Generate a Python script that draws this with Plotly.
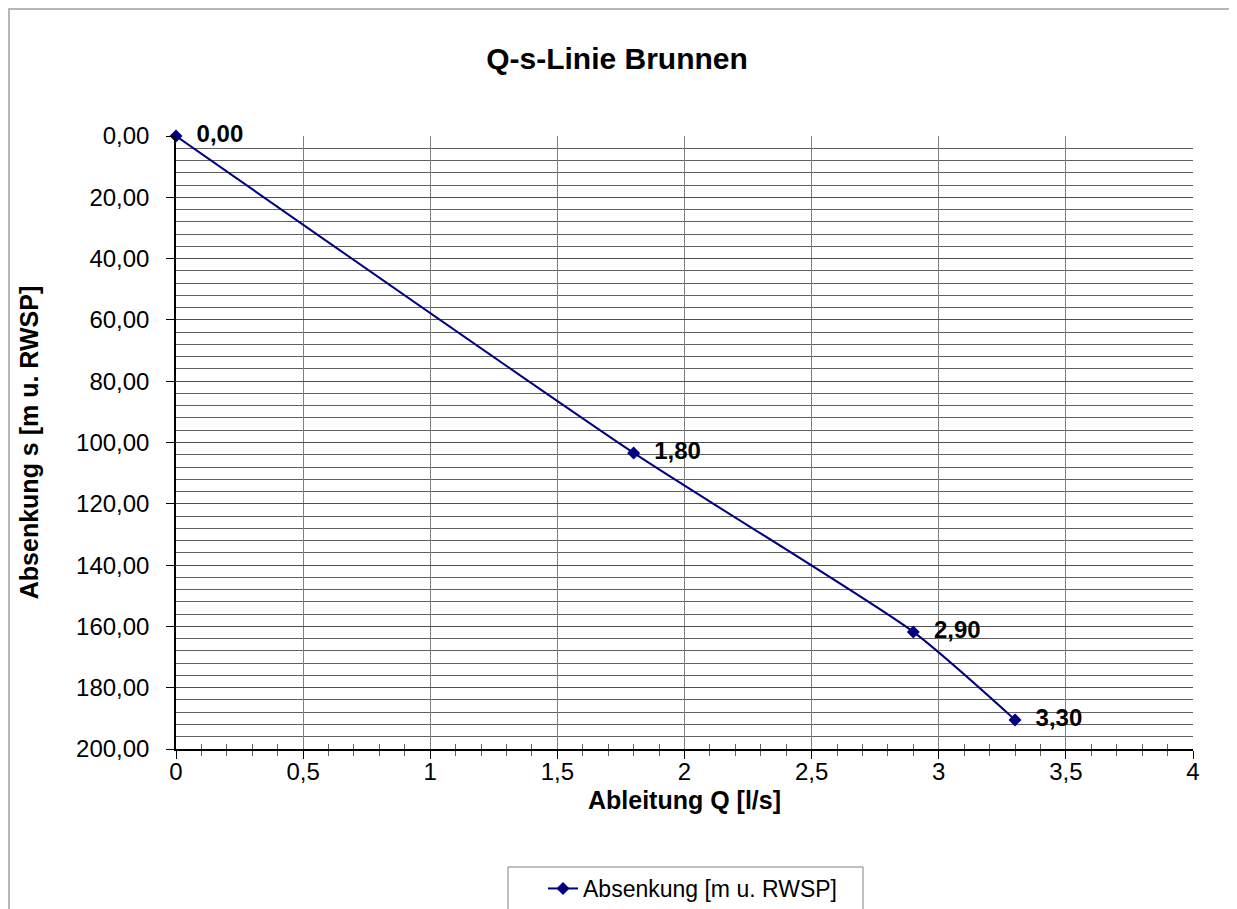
import plotly.graph_objects as go

# Data
q_values = [0.0, 1.8, 2.9, 3.3]          # Ableitung Q [l/s]
s_values = [0.0, 103.4, 161.8, 190.5]    # Absenkung [m u. RWSP]
series_name = "Absenkung [m u. RWSP]"
labels = [f"{v:.2f}".replace(".", ",") for v in q_values]

# page offset of the plotly div (default body margin)
OFF = 8
W, H = 1237 - OFF, 909 - OFF
L, T = 176 - OFF, 136 - OFF
R = W - (1193 - OFF)
B = H - (749 - OFF)
pw, ph = W - L - R, H - T - B

font = "Liberation Sans, Arial, sans-serif"
navy = "#000080"

fig = go.Figure()
fig.add_trace(go.Scatter(
    x=q_values, y=s_values, name=series_name,
    mode="lines+markers+text",
    line=dict(color=navy, width=2, shape="spline", smoothing=0.6),
    marker=dict(symbol="diamond", size=10, color=navy),
    text=["  " + t for t in labels], textposition="middle right",
    textfont=dict(family=font, size=24, color="black", weight="bold"),
    cliponaxis=False,
))

fig.update_layout(
    width=W, height=H,
    margin=dict(l=L, r=R, t=T, b=B, autoexpand=False),
    paper_bgcolor="white", plot_bgcolor="white",
    separators=",.",
    font=dict(family=font, size=24, color="black"),
    title=dict(text="<b>Q-s-Linie Brunnen</b>", x=(617 - OFF) / W, xanchor="center",
               y=1 - (58 - OFF) / H, yanchor="middle", yref="container",
               font=dict(size=30, family=font)),
    showlegend=True,
    legend=dict(orientation="h", x=(543 - OFF) / W, xanchor="left",
                xref="container", yref="container",
                y=1 - (867 - OFF) / H, yanchor="top",
                borderwidth=0, bgcolor="rgba(0,0,0,0)",
                font=dict(size=23, family=font)),
    xaxis=dict(
        range=[0, 4], dtick=0.5, tick0=0,
        showgrid=True, gridcolor="#808080", gridwidth=1,
        showline=True, linecolor="black", linewidth=1.5,
        ticks="outside", ticklen=8, tickcolor="black",
        ticklabelstandoff=-8,
        minor=dict(dtick=0.1, ticks="outside", ticklen=5, tickcolor="#606060", showgrid=False),
        zeroline=False, automargin=False,
    ),
    xaxis2=dict(
        range=[0, 4], overlaying="x", anchor="y", side="bottom",
        showgrid=False, showticklabels=False, showline=False, zeroline=False,
        ticks="", minor=dict(dtick=0.1, ticks="inside", ticklen=5, tickcolor="#606060"),
    ),
    yaxis=dict(
        range=[200, 0], dtick=20, tick0=0, tickformat=".2f",
        showgrid=True, gridcolor="#505050", gridwidth=1,
        showline=True, linecolor="black", linewidth=1.5,
        ticks="outside", ticklen=8, tickcolor="black",
        ticklabelstandoff=12,
        minor=dict(dtick=4, showgrid=True, gridcolor="#606060", gridwidth=1, ticks=""),
        zeroline=False, automargin=False,
        title=dict(text="<b>Absenkung s [m u. RWSP]</b>", standoff=30, font=dict(size=25)),
    ),
)

# X axis title
fig.add_annotation(text="<b>Ableitung Q [l/s]</b>", xref="paper", yref="paper",
                   x=0.5, y=-(800 - 749) / ph, xanchor="center", yanchor="middle",
                   showarrow=False, font=dict(size=25, family=font, color="black"))

# Invisible trace to activate xaxis2
fig.add_trace(go.Scatter(x=[0, 4], y=[200, 200], xaxis="x2", mode="none",
                         showlegend=False, hoverinfo="skip"))

# Outer chart border
fig.add_shape(type="rect", xref="paper", yref="paper",
              x0=(9 - 176) / pw, x1=(1236 - 176) / pw,
              y0=-(930 - 749) / ph, y1=1 + (136 - 9) / ph,
              line=dict(color="#a0a0a0", width=1.5), layer="below")

# Legend frame
fig.add_shape(type="rect", xref="paper", yref="paper",
              x0=(508 - 176) / pw, x1=(863 - 176) / pw,
              y0=-(930 - 749) / ph, y1=-(867 - 749) / ph,
              line=dict(color="#808080", width=1), layer="below")

fig.write_html("out.html")
